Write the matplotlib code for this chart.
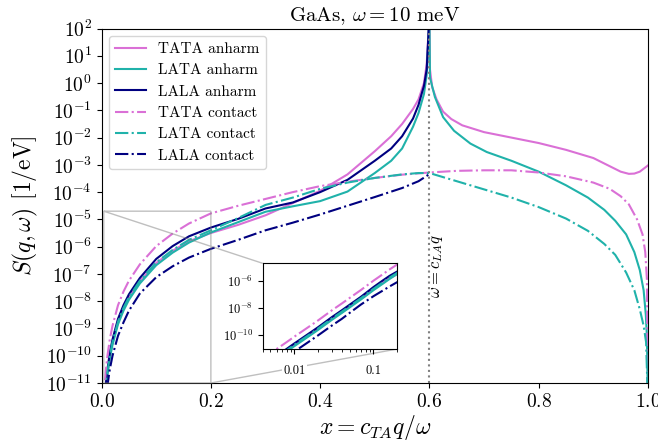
import numpy as np
import matplotlib.pyplot as plt
from matplotlib.ticker import LogLocator, NullLocator, FixedLocator, FixedFormatter, NullFormatter

plt.rcParams['font.family'] = 'serif'
plt.rcParams['font.serif'] = ['cmr10']
plt.rcParams['mathtext.fontset'] = 'cm'
plt.rcParams['axes.formatter.use_mathtext'] = True

# x = c_TA q / omega, curves stored as log10 S(q, omega) [1/eV]
x_small = [0.004, 0.005, 0.006, 0.008, 0.01, 0.015, 0.02, 0.03, 0.04, 0.05,
           0.07, 0.1, 0.13, 0.16, 0.2]

# anharmonic
tata_a_x = x_small + [0.25, 0.3, 0.35, 0.4, 0.45, 0.5, 0.53, 0.55, 0.57, 0.58,
                      0.59, 0.595, 0.6, 0.601, 0.605, 0.613, 0.625, 0.64, 0.66,
                      0.7, 0.75, 0.8, 0.85, 0.9, 0.93, 0.95, 0.965, 0.975, 0.985, 1.0]
tata_a_log = [-12.32, -11.92, -11.62, -11.12, -10.72, -10.02, -9.52, -8.77, -8.27, -7.87,
              -7.27, -6.6, -6.15, -5.8, -5.5,
              -5.2, -4.85, -4.4, -3.95, -3.35, -2.5, -1.95, -1.5, -0.95, -0.6,
              0.0, 0.7, 2.5, 0.5, -0.15, -0.6, -1.05, -1.32, -1.55,
              -1.8, -2.0, -2.2, -2.45, -2.75, -3.05, -3.25, -3.33, -3.32, -3.25, -3.02]

lata_a_x = x_small + [0.25, 0.3, 0.35, 0.4, 0.45, 0.5, 0.53, 0.55, 0.57, 0.58,
                      0.59, 0.595, 0.6, 0.601, 0.61, 0.625, 0.645, 0.675, 0.705,
                      0.75, 0.8, 0.85, 0.89, 0.92, 0.94, 0.96, 0.975, 0.985,
                      0.992, 0.996, 0.998, 0.9995]
lata_a_log = [-12.4, -12.0, -11.7, -11.2, -10.8, -10.1, -9.6, -8.85, -8.35, -7.95,
              -7.35, -6.68, -6.22, -5.85, -5.48,
              -5.1, -4.72, -4.52, -4.33, -3.98, -3.3, -2.85, -2.4, -1.6, -1.1,
              -0.4, 0.3, 2.5, 0.2, -0.51, -1.25, -1.75, -2.22, -2.53,
              -2.85, -3.25, -3.75, -4.2, -4.65, -5.05, -5.55, -6.2, -6.86,
              -7.6, -8.5, -9.3, -11.5]

lala_a_x = x_small + [0.25, 0.3, 0.35, 0.4, 0.45, 0.5, 0.53, 0.55, 0.57, 0.58,
                      0.59, 0.595, 0.6]
lala_a_log = [-12.2, -11.8, -11.5, -11.0, -10.6, -9.9, -9.4, -8.65, -8.15, -7.75,
              -7.15, -6.45, -5.98, -5.62, -5.3,
              -4.98, -4.6, -4.38, -4.0, -3.55, -2.85, -2.4, -1.95, -1.3, -0.8,
              -0.1, 0.5, 2.5]

# contact
tata_c_x = x_small + [0.25, 0.3, 0.35, 0.4, 0.45, 0.5, 0.55, 0.6, 0.65, 0.7, 0.75,
                      0.8, 0.85, 0.9, 0.93, 0.95, 0.965, 0.98, 0.99, 0.995, 0.998, 0.9995]
tata_c_log = [-11.7, -11.3, -11.0, -10.5, -10.1, -9.4, -8.9, -8.15, -7.65, -7.25,
              -6.65, -5.98, -5.52, -5.15, -4.78,
              -4.5, -4.25, -4.0, -3.78, -3.62, -3.48, -3.36, -3.28, -3.22, -3.2, -3.2,
              -3.28, -3.42, -3.65, -3.88, -4.15, -4.45, -5.0, -5.55, -6.2, -7.2, -11.5]

lata_c_x = x_small + [0.25, 0.3, 0.35, 0.4, 0.45, 0.5, 0.55, 0.58, 0.6, 0.65, 0.7,
                      0.75, 0.8, 0.85, 0.89, 0.92, 0.94, 0.96, 0.975, 0.985, 0.992,
                      0.9965, 0.9995]
lata_c_log = [-12.3, -11.9, -11.6, -11.1, -10.7, -10.0, -9.5, -8.75, -8.25, -7.85,
              -7.25, -6.58, -6.12, -5.75, -5.4,
              -4.95, -4.47, -4.2, -3.88, -3.65, -3.48, -3.35, -3.3, -3.3, -3.6, -3.9,
              -4.2, -4.55, -4.97, -5.42, -5.9, -6.3, -6.95, -7.6, -8.3, -8.9,
              -9.5, -11.5]

lala_c_x = x_small + [0.25, 0.3, 0.35, 0.4, 0.45, 0.5, 0.55, 0.58, 0.6]
lala_c_log = [-12.8, -12.4, -12.1, -11.6, -11.2, -10.5, -10.0, -9.27, -8.78, -8.35,
              -7.72, -7.12, -6.72, -6.4, -6.08,
              -5.75, -5.4, -5.12, -4.82, -4.5, -4.18, -3.85, -3.6, -3.34]

series = [
    ("TATA anharm", tata_a_x, tata_a_log, "orchid", "-"),
    ("LATA anharm", lata_a_x, lata_a_log, "lightseagreen", "-"),
    ("LALA anharm", lala_a_x, lala_a_log, "navy", "-"),
    ("TATA contact", tata_c_x, tata_c_log, "orchid", "-."),
    ("LATA contact", lata_c_x, lata_c_log, "lightseagreen", "-."),
    ("LALA contact", lala_c_x, lala_c_log, "navy", "-."),
]

fig = plt.figure(figsize=(6.58, 4.47), dpi=100)
ax = fig.add_axes([0.1544, 0.1432, 0.8304, 0.793])

for label, xs, ls_, color, style in series:
    ax.plot(xs, 10.0 ** np.array(ls_), style, color=color, lw=1.5, label=label)

ax.axvline(0.6, color="grey", ls=":", lw=1.5)
ax.text(0.614, 10 ** -6.7, r"$\omega = c_{LA} q$", rotation=90,
        ha="center", va="center", fontsize=12)

ax.set_yscale("log")
ax.set_xlim(0, 1)
ax.set_ylim(1e-11, 1e2)
ax.yaxis.set_major_locator(LogLocator(base=10, numticks=20))
ax.yaxis.set_minor_locator(NullLocator())
ax.set_xticks([0.0, 0.2, 0.4, 0.6, 0.8, 1.0])
ax.tick_params(labelsize=14)
ax.set_xlabel(r"$x = c_{TA} q/\omega$", fontsize=17, labelpad=2)
ax.set_ylabel(r"$S(q,\omega)$ [1/eV]", fontsize=17)
ax.set_title(r"GaAs, $\omega = 10$ meV", fontsize=15, pad=5)
ax.legend(loc="upper left", fontsize=11)

# inset, log-log zoom at small x
axins = ax.inset_axes([0.2948, 0.0959, 0.2463, 0.2417])
for label, xs, ls_, color, style in series:
    axins.plot(xs, 10.0 ** np.array(ls_), style, color=color, lw=1.5)
axins.set_xscale("log")
axins.set_yscale("log")
axins.set_xlim(0.004, 0.2)
axins.set_ylim(1e-11, 2e-5)
axins.xaxis.set_major_locator(FixedLocator([0.01, 0.1]))
axins.xaxis.set_major_formatter(FixedFormatter(["0.01", "0.1"]))
axins.xaxis.set_minor_locator(LogLocator(base=10, subs=np.arange(2, 10), numticks=10))
axins.xaxis.set_minor_formatter(NullFormatter())
axins.yaxis.set_major_locator(FixedLocator([1e-10, 1e-8, 1e-6]))
axins.yaxis.set_minor_locator(NullLocator())
axins.tick_params(labelsize=9)
axins.tick_params(axis="x", pad=8)
for lbl in axins.get_xticklabels():
    lbl.set_bbox(dict(facecolor="white", edgecolor="none", pad=1))
ax.indicate_inset_zoom(axins)

fig.savefig("out.png", dpi=100)
